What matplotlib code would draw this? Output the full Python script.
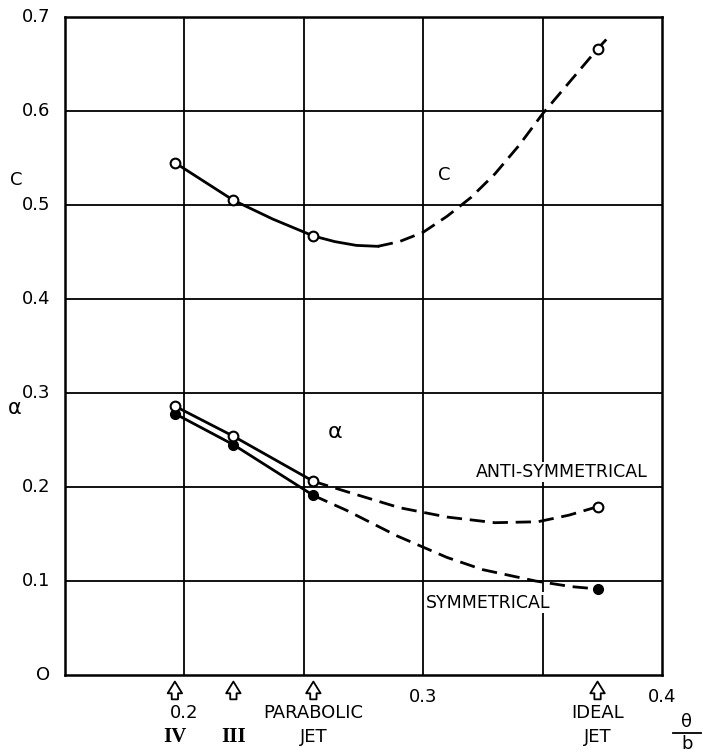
import matplotlib
matplotlib.use("Agg")
import matplotlib.pyplot as plt
from matplotlib.lines import Line2D

# values (theta/b vs C and alpha)
case_x = [0.196, 0.2205, 0.254, 0.373]

# C curve: measured points + read-off curve
c_pts = [0.545, 0.505, 0.467, 0.666]
c_solid_x = [0.196, 0.2205, 0.237, 0.254, 0.263, 0.272, 0.281]
c_solid_y = [0.545, 0.505, 0.485, 0.467, 0.461, 0.457, 0.456]
c_dash_x = [0.281, 0.290, 0.300, 0.310, 0.320, 0.330, 0.340, 0.350, 0.362, 0.373, 0.377]
c_dash_y = [0.456, 0.461, 0.471, 0.488, 0.508, 0.533, 0.563, 0.597, 0.633, 0.666, 0.677]

# alpha, anti-symmetrical (open) and symmetrical (filled)
a_anti = [0.286, 0.254, 0.206, 0.179]
a_sym = [0.278, 0.245, 0.191, 0.0915]
anti_dash_x = [0.254, 0.268, 0.290, 0.310, 0.330, 0.348, 0.361, 0.373]
anti_dash_y = [0.206, 0.195, 0.178, 0.168, 0.162, 0.163, 0.170, 0.179]
sym_dash_x = [0.254, 0.268, 0.289, 0.310, 0.325, 0.347, 0.362, 0.373]
sym_dash_y = [0.191, 0.175, 0.148, 0.125, 0.112, 0.100, 0.094, 0.0915]

yticks = [0, 0.1, 0.2, 0.3, 0.4, 0.5, 0.6, 0.7]
ytick_labels = ["O", "0.1", "0.2", "0.3", "0.4", "0.5", "0.6", "0.7"]

plt.rcParams['font.family'] = ['DejaVu Sans']
FS = 13

fig = plt.figure(figsize=(7.03, 7.54), dpi=100)
ax = fig.add_axes([0.0925, 0.1048, 0.8492, 0.8727])
ax.set_xlim(0.15, 0.40)
ax.set_ylim(0, 0.7)

for s in ax.spines.values():
    s.set_linewidth(1.8)

ax.set_xticks([0.2, 0.25, 0.3, 0.35])
ax.set_yticks(yticks[1:-1])
ax.grid(True, color="black", lw=1.3)
ax.tick_params(axis="x", length=0, labelbottom=False)
ax.tick_params(axis="y", length=0, labelleft=False)
for v, lab in zip(yticks, ytick_labels):
    ax.text(-0.025, v, lab, transform=ax.get_yaxis_transform(),
            ha="right", va="center", fontsize=FS)

dash = (0, (5.5, 2.8))
lw = 2.0

# C
ax.plot(c_solid_x, c_solid_y, color="black", lw=lw)
ax.plot(c_dash_x, c_dash_y, color="black", lw=lw, linestyle=dash)
ax.plot(case_x, c_pts, "o", ms=7, mfc="white", mec="black", mew=1.5)

# alpha
ax.plot(case_x[:3], a_anti[:3], color="black", lw=lw)
ax.plot(anti_dash_x, anti_dash_y, color="black", lw=lw, linestyle=dash)
ax.plot(case_x[:3], a_sym[:3], color="black", lw=lw)
ax.plot(sym_dash_x, sym_dash_y, color="black", lw=lw, linestyle=dash)
ax.plot(case_x, a_sym, "o", ms=7, mfc="black", mec="black")
ax.plot(case_x, a_anti, "o", ms=7, mfc="white", mec="black", mew=1.5)

# labels in plot
ax.text(0.309, 0.532, "C", fontsize=FS, ha="center", va="center")
ax.text(0.263, 0.258, "α", fontsize=FS + 3, ha="center", va="center")
ax.text(0.394, 0.216, "ANTI-SYMMETRICAL", fontsize=FS - 0.5, ha="right", va="center",
        bbox=dict(fc="white", ec="none", pad=1))
ax.text(0.327, 0.077, "SYMMETRICAL", fontsize=FS - 0.5, ha="center", va="center",
        bbox=dict(fc="white", ec="none", pad=1))
ax.text(-0.082, 0.527, "C", transform=ax.get_yaxis_transform(), fontsize=FS,
        ha="center", va="center")
ax.text(-0.085, 0.284, "α", transform=ax.get_yaxis_transform(), fontsize=FS + 2,
        ha="center", va="center")

# arrows under the x axis
for x in case_x:
    ax.annotate("", xy=(x, -0.010), xytext=(x, -0.037),
                xycoords=("data", "axes fraction"),
                textcoords=("data", "axes fraction"),
                annotation_clip=False,
                arrowprops=dict(arrowstyle="simple,head_length=0.65,head_width=0.8,tail_width=0.35",
                                mutation_scale=13, fc="white", ec="black", lw=1.3,
                                shrinkA=0, shrinkB=0))

xt = ax.get_xaxis_transform()
ax.text(0.2, -0.058, "0.2", transform=xt, fontsize=FS, ha="center", va="center")
ax.text(0.3, -0.034, "0.3", transform=xt, fontsize=FS, ha="center", va="center")
ax.text(0.4, -0.034, "0.4", transform=xt, fontsize=FS, ha="center", va="center")
ax.text(case_x[0], -0.094, "IV", transform=xt, fontsize=FS + 2, ha="center",
        va="center", family="Liberation Serif", weight="bold")
ax.text(case_x[1], -0.094, "III", transform=xt, fontsize=FS + 2, ha="center",
        va="center", family="Liberation Serif", weight="bold")
ax.text(case_x[2], -0.058, "PARABOLIC", transform=xt, fontsize=FS, ha="center", va="center")
ax.text(case_x[2], -0.094, "JET", transform=xt, fontsize=FS, ha="center", va="center")
ax.text(case_x[3], -0.058, "IDEAL", transform=xt, fontsize=FS, ha="center", va="center")
ax.text(case_x[3], -0.094, "JET", transform=xt, fontsize=FS, ha="center", va="center")

# theta / b
fig.text(687 / 703, 1 - 722 / 754, "θ", fontsize=FS, ha="center", va="center")
fig.text(687 / 703, 1 - 744 / 754, "b", fontsize=FS, ha="center", va="center")
fig.add_artist(Line2D([673 / 703, 701 / 703], [1 - 733 / 754, 1 - 733 / 754],
                      color="black", lw=1.3))

fig.savefig("out.png", dpi=100)
